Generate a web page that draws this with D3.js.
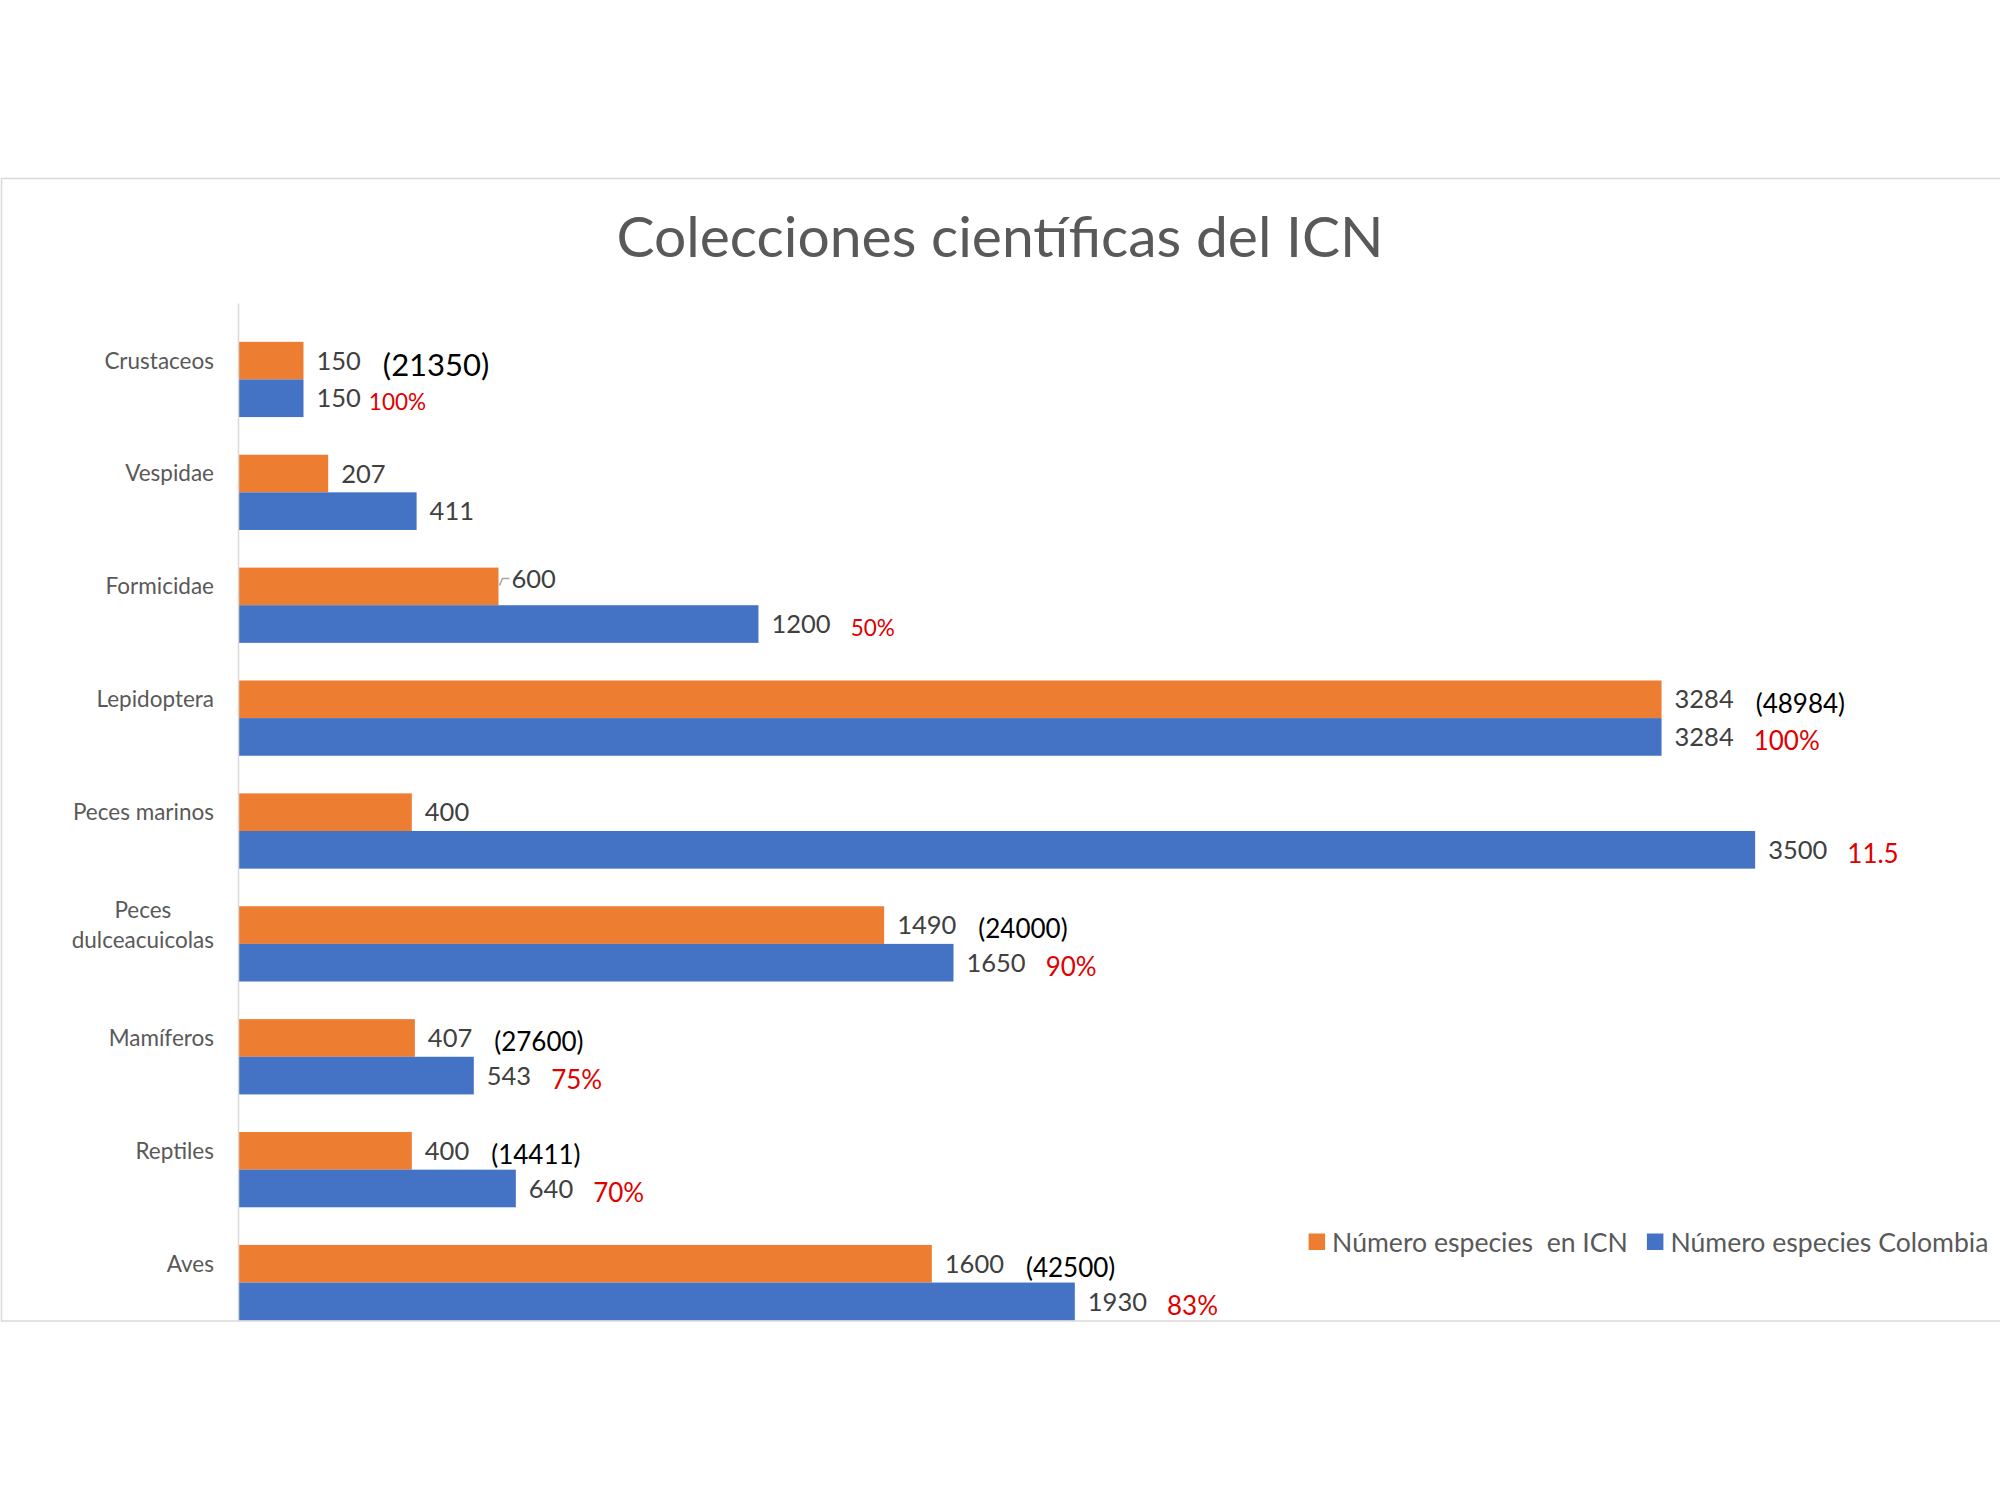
<!DOCTYPE html>
<html>
<head>
<meta charset="utf-8">
<script src="https://cdn.jsdelivr.net/npm/d3@7"></script>
<style>
  body { margin: 0; background: #fff; }
  svg text { font-family: Lato, "Open Sans", sans-serif; white-space: pre; }
</style>
</head>
<body>
<div id="chart"></div>
<script>
// categories top to bottom
const categories = ['Crustaceos', 'Vespidae', 'Formicidae', 'Lepidoptera', 'Peces marinos',
  'Peces dulceacuicolas', 'Mamíferos', 'Reptiles', 'Aves'];
// Número especies en ICN
const icnValues = [150, 207, 600, 3284, 400, 1490, 407, 400, 1600];
// Número especies Colombia
const colombiaValues = [150, 411, 1200, 3284, 3500, 1650, 543, 640, 1930];
// hand typed notes next to the labels
const blackNotes = ['(21350)', '', '', '(48984)', '', '(24000)', '(27600)', '(14411)', '(42500)'];
const redNotes = ['100%', '', '50%', '100%', '11.5', '90%', '75%', '70%', '83%'];
const seriesNames = ['Número especies  en ICN', 'Número especies Colombia'];
const seriesColors = ['#ED7D31', '#4472C4'];

const W = 2000, H = 1500;

const svg = d3.select('#chart')
  .append('svg')
    .attr('width', W)
    .attr('height', H);

// chart area border (light gray, runs off the right edge)
svg.append('rect')
    .attr('x', 1.5).attr('y', 178.5)
    .attr('width', W + 10).attr('height', 1321 - 178.5)
    .attr('fill', '#fff')
    .attr('stroke', '#d9d9d9')
    .attr('stroke-width', 1.5);

// title
svg.append('text')
    .attr('x', 1000).attr('y', 257)
    .attr('text-anchor', 'middle')
    .attr('font-size', 57)
    .attr('fill', '#595959')
    .text('Colecciones científicas del ICN');

const x = d3.scaleLinear().domain([0, 4000]).range([238.5, 1971.8]);
const y = d3.scaleBand().domain(categories).range([323, 1339])
    .paddingInner(1 / 3).paddingOuter(1 / 6);
const ySub = d3.scaleBand().domain([0, 1]).range([0, y.bandwidth()]);

const rows = categories.map((c, i) => ({
  cat: c, vals: [icnValues[i], colombiaValues[i]], black: blackNotes[i], red: redNotes[i]
}));

// the typed notes were not all the same size
function noteSize(cat, i) {
  if (cat === 'Crustaceos') return i === 0 ? 31 : 22.5;
  if (cat === 'Formicidae') return 22.5;
  return 26;
}

// bars
const groups = svg.selectAll('g.cat')
  .data(rows)
  .enter()
  .append('g')
    .attr('class', 'cat')
    .attr('transform', d => 'translate(0,' + y(d.cat) + ')');

groups.selectAll('rect')
    .data(d => d.vals)
    .enter()
    .append('rect')
      .attr('x', x(0))
      .attr('y', (d, i) => ySub(i))
      .attr('width', d => x(d) - x(0))
      .attr('height', ySub.bandwidth())
      .attr('fill', (d, i) => seriesColors[i]);

// vertical category axis line
svg.append('line')
    .attr('x1', x(0)).attr('x2', x(0))
    .attr('y1', 303.6).attr('y2', 1321)
    .attr('stroke', '#d9d9d9')
    .attr('stroke-width', 1.5);

// value labels, with one label nudged up (Formicidae ICN) and a leader line
groups.each(function (d) {
  const g = d3.select(this);
  d.vals.forEach((v, i) => {
    const cy = ySub(i) + ySub.bandwidth() / 2;
    const lifted = d.cat === 'Formicidae' && i === 0;
    const ly = lifted ? cy - 8 : cy;
    if (lifted) {
      g.append('path')
          .attr('d', 'M' + (x(v) + 1) + ',' + (cy - 1) + 'L' + (x(v) + 4) + ',' + ly + 'H' + (x(v) + 11))
          .attr('fill', 'none')
          .attr('stroke', '#a6a6a6')
          .attr('stroke-width', 1.5);
    }
    const lab = g.append('text')
        .attr('x', x(v) + 13)
        .attr('y', ly)
        .attr('dy', '0.36em')
        .attr('font-size', 25.5)
        .attr('fill', '#404040')
        .text(v);
    const end = x(v) + 13 + lab.node().getComputedTextLength();
    const note = i === 0 ? d.black : d.red;
    if (note) {
      const small = d.cat === 'Crustaceos' && i === 1;
      g.append('text')
          .attr('x', end + (small ? 8 : i === 0 ? 22 : 20))
          .attr('y', cy + 4)
          .attr('dy', '0.36em')
          .attr('font-size', noteSize(d.cat, i))
          .attr('fill', i === 0 ? '#000' : '#e00000')
          .text(note);
    }
  });
});

// category labels, long names wrap to two centred lines
groups.each(function (d) {
  const g = d3.select(this);
  const cy = ySub(0) + ySub.bandwidth() / 2;
  const t = g.append('text')
      .attr('font-size', 22.5)
      .attr('fill', '#595959')
      .attr('x', 214).attr('y', cy).attr('dy', '0.35em')
      .attr('text-anchor', 'end')
      .text(d.cat);
  if (t.node().getComputedTextLength() > 200) {
    const words = d.cat.split(' ');
    t.text(null);
    const tmp = words.map(w => {
      const s = g.append('text').attr('font-size', 22.5).text(w);
      const wd = s.node().getComputedTextLength();
      s.remove();
      return wd;
    });
    const cx = 214 - d3.max(tmp) / 2;
    t.attr('text-anchor', 'middle');
    words.forEach((w, k) => {
      t.append('tspan')
          .attr('x', cx)
          .attr('y', cy + (k - (words.length - 1) / 2) * 29.5)
          .attr('dy', '0.35em')
          .text(w);
    });
  }
});

// legend
let lx = 1308.6;
seriesNames.forEach((name, i) => {
  svg.append('rect')
      .attr('x', lx).attr('y', 1233.5)
      .attr('width', 16.5).attr('height', 16.5)
      .attr('fill', seriesColors[i]);
  const t = svg.append('text')
      .attr('x', lx + 23.5).attr('y', 1242)
      .attr('dy', '0.36em')
      .attr('font-size', 26.6)
      .attr('fill', '#595959')
      .text(name);
  lx += 23.5 + t.node().getComputedTextLength() + 19;
});
</script>
</body>
</html>
